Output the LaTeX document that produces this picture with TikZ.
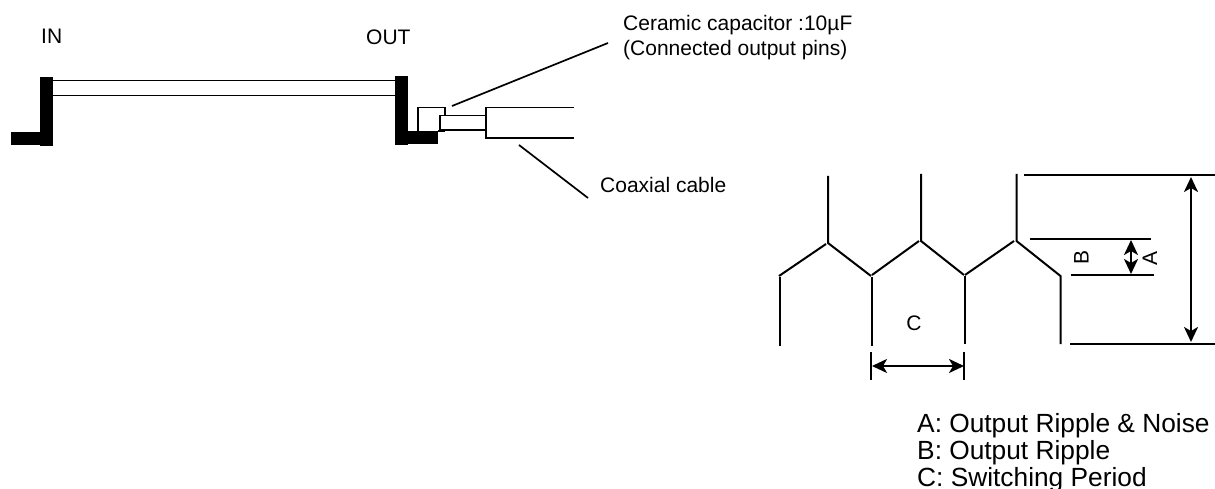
\documentclass[tikz,border=0pt]{standalone}
\usepackage{fontspec}
\setmainfont{Liberation Sans}
\usetikzlibrary{arrows.meta}
\tikzset{
	lbl/.style={rectangle,inner sep=0pt,font=\fontsize{21}{24}\selectfont},
	legend/.style={rectangle,inner sep=0pt,anchor=base west,font=\fontsize{26.3}{30}\selectfont},
	wire/.style={line width=1.7pt,color=black},
	wave/.style={line width=2pt,color=black},
	dim/.style={line width=2.2pt,color=black,{Stealth[length=15pt,width=14pt,inset=4pt]}-{Stealth[length=15pt,width=14pt,inset=4pt]}}
}
\begin{document}
\begin{tikzpicture}[x=1pt,y=-1pt]
	\useasboundingbox (0,0) rectangle (1215,489);
	% Board and pins
	\fill (40,77) rectangle (53,146.5);
	\fill (11,132) rectangle (40,145.5);
	\fill (395,76) rectangle (408,145.5);
	\fill (408,131) rectangle (438,144.5);
	\draw [wire] (53,80.5) -- (395,80.5);
	\draw [wire] (53,95.5) -- (395,95.5);
	% Capacitor and cable
	\draw [wire] (418,131) -- (418,107.5) -- (445,107.5) -- (445,115.5);
	\draw [wire] (438,131) -- (445,131);
	\draw [wire] (440,115.5) rectangle (486,130);
	\draw [wire] (574,107.5) -- (486,107.5) -- (486,138) -- (574,138);
	% Place labels
	\node [lbl,anchor=base west] (in) at (41,44) {IN};
	\node [lbl,anchor=base west] (out) at (366,45) {OUT};
	\node [lbl,anchor=base west] (cap) at (623,31) {Ceramic capacitor :10µF};
	\node [lbl,anchor=base west] (pins) at (623,55.5) {(Connected output pins)};
	\node [lbl,anchor=base west] (coax) at (600,193) {Coaxial cable};
	\coordinate (capa) at (452,106);
	\coordinate (capb) at (608,43);
	\coordinate (coaxa) at (519,145);
	\coordinate (coaxb) at (588,198);
	\draw [wire] (capa) -- (capb);
	\draw [wire] (coaxa) -- (coaxb);
	% Waveform
	\draw [wave] (780,346) -- (780,277);
	\draw [wave] (779,276) -- (826,244);
	\draw [wave] (828,176) -- (828,243) -- (871,276);
	\draw [wave] (872,277) -- (872,346);
	\draw [wave] (872,275) -- (919,241);
	\draw [wave] (921,174) -- (921,241) -- (964,275);
	\draw [wave] (965,276) -- (965,344);
	\draw [wave] (965,275) -- (1014,241);
	\draw [wave] (1016.5,174) -- (1016.5,241) -- (1060.5,276) -- (1060.5,344);
	% Dimension lines
	\coordinate (topa) at (1024,175);
	\coordinate (topb) at (1215,175);
	\coordinate (bota) at (1070,344);
	\coordinate (botb) at (1215,344);
	\coordinate (rippa) at (1030,239);
	\coordinate (rippb) at (1151,239);
	\coordinate (ripqa) at (1071,275);
	\coordinate (ripqb) at (1154,275);
	\draw [wave] (topa) -- (topb);
	\draw [wave] (bota) -- (botb);
	\draw [wave] (rippa) -- (rippb);
	\draw [wave] (ripqa) -- (ripqb);
	\draw [wave] (871,352) -- (871,380);
	\draw [wave] (964,352) -- (964,380);
	\coordinate (bigt) at (1191,177);
	\coordinate (bigb) at (1191,342);
	\coordinate (smlt) at (1131,240);
	\coordinate (smlb) at (1131,274);
	\coordinate (perl) at (872,366);
	\coordinate (perr) at (964,366);
	\draw [dim] (bigt) -- (bigb);
	\draw [dim] (smlt) -- (smlb);
	\draw [dim] (perl) -- (perr);
	\node [lbl,rotate=90] (labelb) at (1081.5,257.5) {B};
	\node [lbl,rotate=90] (labela) at (1150,258.5) {A};
	\node [lbl] (labelc) at (914,323) {C};
	% Legend
	\node [legend] (lega) at (917,432.5) {A: Output Ripple \& Noise};
	\node [legend] (legb) at (917,459) {B: Output Ripple};
	\node [legend] (legc) at (917,486) {C: Switching Period};
\end{tikzpicture}
\end{document}
